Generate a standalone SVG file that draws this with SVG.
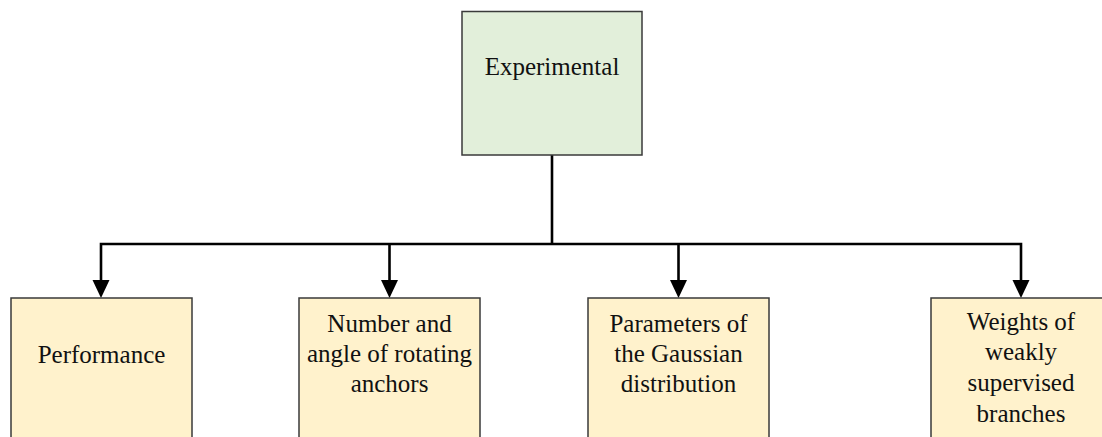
<svg xmlns="http://www.w3.org/2000/svg" width="1102" height="437" viewBox="0 0 1102 437">
<style>
.top{fill:#E2EFDA;stroke:#3a3a3a;stroke-width:1.5}
.leaf{fill:#FFF2CC;stroke:#3a3a3a;stroke-width:1.5}
.t{font-size:25px;fill:#111;text-anchor:middle}
.c{fill:none;stroke:#000;stroke-width:2.6}
.ah{fill:#000}
</style>
<rect width="1102" height="437" fill="#fff"/>
<g id="connectors">
<polyline class="c" points="552,155 552,244"/>
<polyline class="c" points="101,281 101,244 1021,244 1021,281"/>
<line class="c" x1="389.5" y1="244" x2="389.5" y2="281"/>
<line class="c" x1="678.5" y1="244" x2="678.5" y2="281"/>
<polygon class="ah" points="92.5,280 109.5,280 101,298"/>
<polygon class="ah" points="381,280 398,280 389.5,298"/>
<polygon class="ah" points="670,280 687,280 678.5,298"/>
<polygon class="ah" points="1012.5,280 1029.5,280 1021,298"/>
</g>
<g font-family="Liberation Serif, Tinos, Times New Roman, DejaVu Serif, serif">
<g id="experimental">
<rect class="top" x="462" y="11.5" width="180" height="143.5"/>
<text class="t" x="552" y="75">Experimental</text>
</g>
<g id="performance">
<rect class="leaf" x="11" y="298" width="181" height="145"/>
<text class="t" x="101.5" y="363">Performance</text>
</g>
<g id="anchors">
<rect class="leaf" x="299" y="298" width="181" height="145"/>
<text class="t" x="389.5" y="332">Number and</text>
<text class="t" x="389.5" y="362">angle of rotating</text>
<text class="t" x="389.5" y="392">anchors</text>
</g>
<g id="gaussian">
<rect class="leaf" x="588" y="298" width="181" height="145"/>
<text class="t" x="678.5" y="332">Parameters of</text>
<text class="t" x="678.5" y="362">the Gaussian</text>
<text class="t" x="678.5" y="392">distribution</text>
</g>
<g id="weights">
<rect class="leaf" x="931" y="298" width="181" height="145"/>
<text class="t" x="1021" y="330">Weights of</text>
<text class="t" x="1021" y="360">weakly</text>
<text class="t" x="1021" y="391">supervised</text>
<text class="t" x="1021" y="422">branches</text>
</g>
</g>
</svg>
